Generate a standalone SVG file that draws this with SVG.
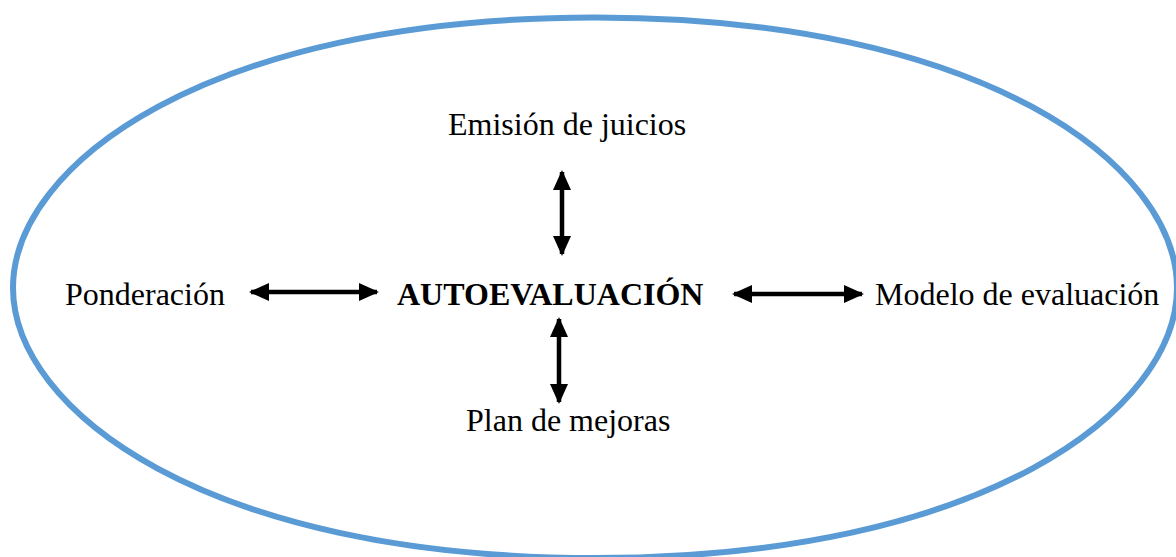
<svg xmlns="http://www.w3.org/2000/svg" width="1176" height="557" viewBox="0 0 1176 557">
<style>
.t{font-family:"Liberation Serif","Times New Roman",serif;font-size:32px;fill:#000}
.b{font-weight:bold}
.c{stroke:#000;stroke-width:4.5;fill:none}
</style>
<defs>
<marker id="ah" markerUnits="userSpaceOnUse" markerWidth="20" markerHeight="20" viewBox="0 0 20 20" refX="18" refY="10" orient="auto-start-reverse">
<path d="M0,1 L20,10 L0,19 Z" fill="#000"/>
</marker>
</defs>
<rect width="1176" height="557" fill="#fff"/>
<path id="oval" d="M595,17.5 C205,17.5 13,166 13,287.75 C13,409.5 205,558 595,558 C985,558 1177,409.5 1177,287.75 C1177,166 985,17.5 595,17.5 Z" fill="none" stroke="#5B9BD5" stroke-width="6"/>
<g id="connectors">
<line class="c" x1="251" y1="292" x2="377" y2="292" marker-start="url(#ah)" marker-end="url(#ah)"/>
<line class="c" x1="734" y1="294" x2="862" y2="294" marker-start="url(#ah)" marker-end="url(#ah)"/>
<line class="c" x1="562" y1="172" x2="562" y2="254" marker-start="url(#ah)" marker-end="url(#ah)"/>
<line class="c" x1="559" y1="319" x2="559" y2="402" marker-start="url(#ah)" marker-end="url(#ah)"/>
</g>
<g id="n-center"><text class="t b" x="397" y="305">AUTOEVALUACIÓN</text></g>
<g id="n-top"><text class="t" x="448" y="135">Emisión de juicios</text></g>
<g id="n-bottom"><text class="t" x="466" y="431">Plan de mejoras</text></g>
<g id="n-left"><text class="t" x="65" y="305">Ponderación</text></g>
<g id="n-right"><text class="t" x="875" y="305">Modelo de evaluación</text></g>
</svg>
